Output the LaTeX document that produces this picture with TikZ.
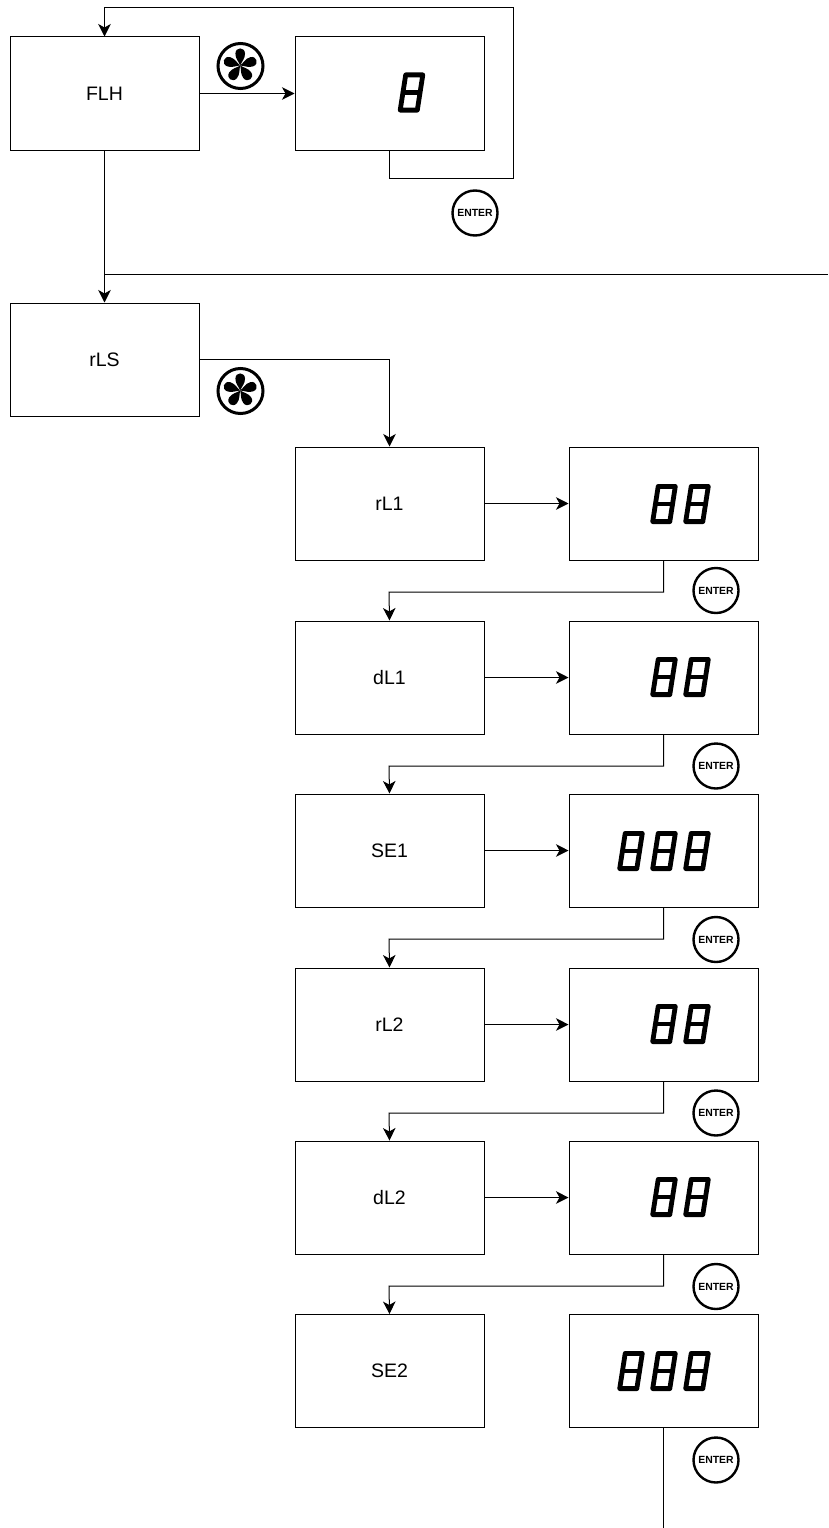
\documentclass[tikz,border=0pt]{standalone}
\usepackage{fontspec}
\setmainfont{Liberation Sans}
\usetikzlibrary{arrows.meta}
\tikzset{
  every picture/.style={x=1pt,y=-1pt},
  flowbox/.style={draw=black,line width=1pt,minimum width=189pt,minimum height=113pt,inner sep=0pt,font=\fontsize{19.5}{21}\selectfont},
  enterbtn/.style={circle,draw=black,line width=2.4pt,minimum size=45pt,inner sep=0pt,font=\bfseries\fontsize{10.4}{11}\selectfont},
  fanring/.style={circle,draw=black,line width=3pt,minimum size=45pt,inner sep=0pt},
  conn/.style={draw=black,line width=1pt},
  arrowconn/.style={conn,-{Stealth[length=12.5pt,width=12.5pt,inset=3.5pt]}},
  seg/.style={draw=black,line width=4.8pt,line join=round},
  digit/.pic={
    \draw[seg] (-11.3,17.6) -- (-5.8,-17.6) -- (11.3,-17.6) -- (5.8,17.6) -- cycle;
    \draw[seg] (-8.55,0) -- (8.55,0);
  },
  petal/.pic={
    \fill[black] (0,0) .. controls (-1.5,-4) and (-5,-7) .. (-4.8,-12) .. controls (-4.6,-18.8) and (4.6,-18.8) .. (4.8,-12) .. controls (5,-7) and (1.5,-4) .. (0,0) -- cycle;
  },
  fanicon/.pic={
    \foreach \a in {0,72,144,216,288} { \pic[rotate=\a] {petal}; }
  }
}
\begin{document}
\begin{tikzpicture}
\useasboundingbox (0,0) rectangle (828,1528);
% top row
\node[flowbox] (flh) at (104.5,93.5) {FLH};
\node[flowbox] (flhv) at (389.5,93.5) {};
\pic at (411.5,92.5) {digit};
% rLS
\node[flowbox] (rls) at (104.5,359.5) {rLS};
% rows
\foreach \nm/\lab/\yy in {a/rL1/503.5,b/dL1/677.5,c/SE1/850.5,d/rL2/1024.5,e/dL2/1197.5,f/SE2/1371}{
  \node[flowbox] (\nm) at (389.5,\yy) {\lab};
  \node[flowbox] (\nm v) at (663.5,\yy) {};
}
% digits
\foreach \yy in {504,677,1024,1197}{
  \pic at (664,\yy) {digit};
  \pic at (697,\yy) {digit};
}
\foreach \yy in {851,1371}{
  \pic at (631,\yy) {digit};
  \pic at (664,\yy) {digit};
  \pic at (697,\yy) {digit};
}
% icons
\node[fanring] (fan1) at (240.5,66) {};
\pic at (240.2,65.5) {fanicon};
\node[fanring] (fan2) at (240.5,391) {};
\pic at (240.2,390.5) {fanicon};
\node[enterbtn] (ent0) at (475,213) {ENTER};
\foreach \nm/\yy in {e1/590.5,e2/766,e3/939.5,e4/1113,e5/1286.5,e6/1460}{
  \node[enterbtn] (\nm) at (716,\yy) {ENTER};
}
% free ends
\coordinate (c1) at (513,178);
\coordinate (c2) at (513,8);
\coordinate (c3) at (828,274);
\coordinate (c4) at (flh.south |- c3);
\coordinate (c5) at (664,1528);
% connectors
\draw[arrowconn] (flh.east) -- (flhv.west);
\draw[arrowconn] (flhv.south) |- (c1) -- (c2) -| (flh.north);
\draw[arrowconn] (flh.south) -- (rls.north);
\draw[conn] (c4) -- (c3);
\draw[arrowconn] (rls.east) -| (a.north);
\foreach \nm in {a,b,c,d,e}{
  \draw[arrowconn] (\nm.east) -- (\nm v.west);
}
\foreach \p/\q/\yy in {a/b/592,b/c/766,c/d/939,d/e/1113,e/f/1286}{
  \coordinate (m\p) at (389,\yy);
  \draw[arrowconn] (\p v.south) |- (m\p) -- (\q.north);
}
\draw[conn] (fv.south) -- (fv.south |- c5);
\end{tikzpicture}
\end{document}
